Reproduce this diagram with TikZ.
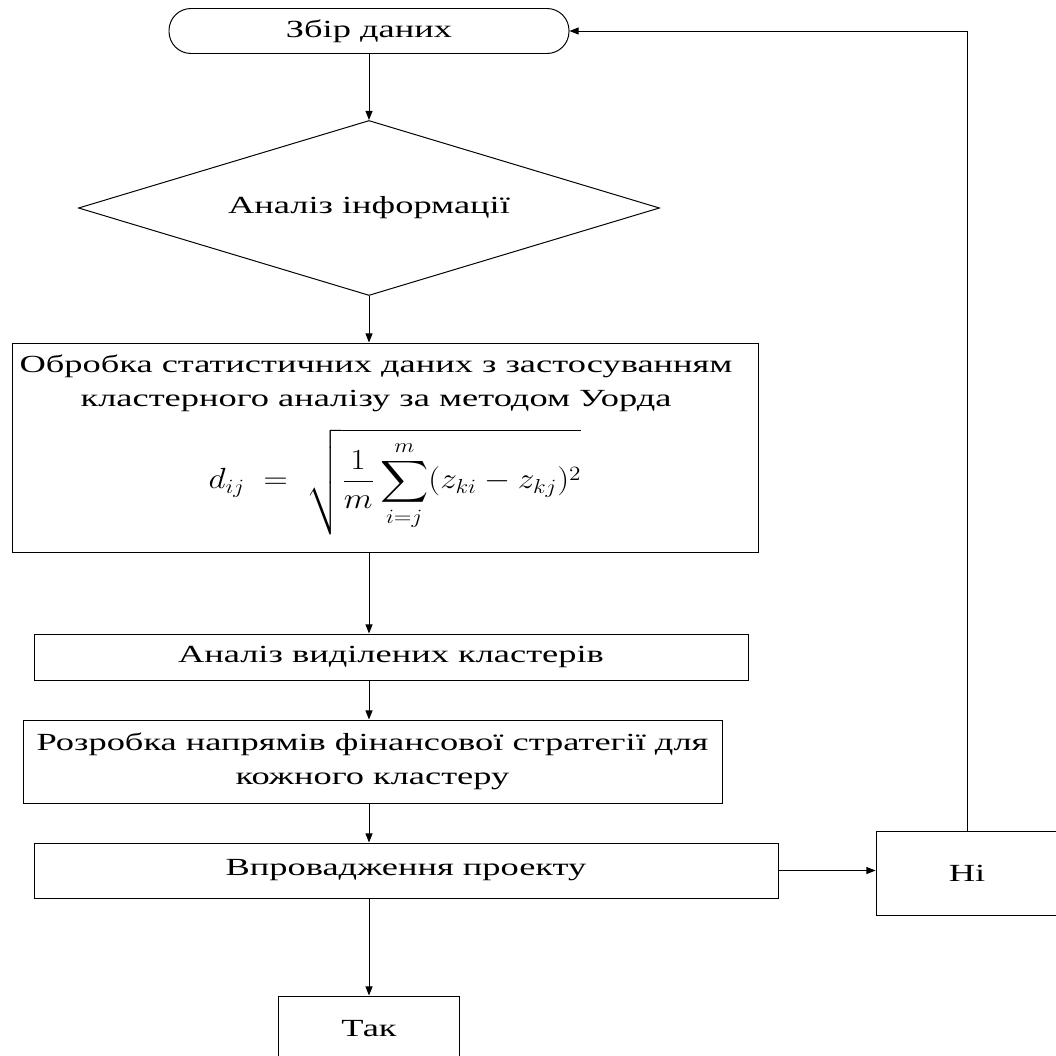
\documentclass[tikz,border=0pt]{standalone}
\usepackage{fontspec}
\setmainfont{Liberation Serif}[FakeStretch=1.48]
\usepackage{amsmath}
\usepackage{graphicx}
\usetikzlibrary{arrows.meta, shapes.geometric}
\newcommand{\px}{0.025cm}

\begin{document}
\begin{tikzpicture}[
    x=0.025cm, y=-0.025cm,
    font=\fontsize{17.5}{24}\selectfont,
    blok/.style={draw, line width=0.7pt, inner sep=0pt, align=center},
    termin/.style={blok, rounded corners=22*\px, minimum width=400*\px,
      minimum height=45*\px},
    rishennia/.style={blok, diamond, aspect=3.32, minimum width=581*\px,
      minimum height=175*\px},
    strilka/.style={-{Triangle[length=6.5pt, width=5pt]}, line width=0.7pt}
  ]
  \useasboundingbox (0,0) rectangle (1056,1056);

  \node[termin] (zbir) at (369,31) {Збір даних};
  \node[rishennia] (analiz) at (369,208) {Аналіз інформації};
  \node[blok, minimum width=746*\px, minimum height=209*\px] (obrobka)
    at (385,447.5) {};
  \node[align=center, inner sep=0pt] (obrobkatekst) at (376,383)
    {Обробка статистичних даних з застосуванням\\
     кластерного аналізу за методом Уорда};
  \node[inner sep=0pt, font=\fontsize{19.5}{24}\selectfont] (formula) at (395,482)
    {\scalebox{1.15}[1]{$\displaystyle d_{ij} \;=\;
      \sqrt{\frac{1}{m}\sum_{i=j}^{m}(z_{ki}-z_{kj})^2}$}};
  \node[blok, minimum width=714*\px, minimum height=46*\px] (klaster)
    at (391,657) {Аналіз виділених кластерів};
  \node[blok, minimum width=699*\px, minimum height=83*\px] (rozrobka)
    at (372.5,761.5) {Розробка напрямів фінансової стратегії для\\
      кожного кластеру};
  \node[blok, minimum width=744*\px, minimum height=55*\px] (vprov)
    at (406,870.5) {Впровадження проекту};
  \node[blok, minimum width=182*\px, minimum height=84*\px] (ni)
    at (967,873) {Ні};
  \node[blok, minimum width=181*\px, minimum height=74*\px] (tak)
    at (369,1033) {};
  \node[inner sep=0pt] (taktekst) at (369,1029) {Так};

  \draw[strilka] (zbir) -- (analiz);
  \draw[strilka] (analiz.south) -- (analiz.south |- obrobka.north);
  \draw[strilka] (analiz.south |- obrobka.south) -- (analiz.south |- klaster.north);
  \draw[strilka] (analiz.south |- klaster.south) -- (analiz.south |- rozrobka.north);
  \draw[strilka] (analiz.south |- rozrobka.south) -- (analiz.south |- vprov.north);
  \draw[strilka] (analiz.south |- vprov.south) -- (tak);
  \draw[strilka] (vprov.east) -- (vprov.east -| ni.west);
  \draw[strilka] (ni.north) |- (zbir.east);
\end{tikzpicture}
\end{document}
